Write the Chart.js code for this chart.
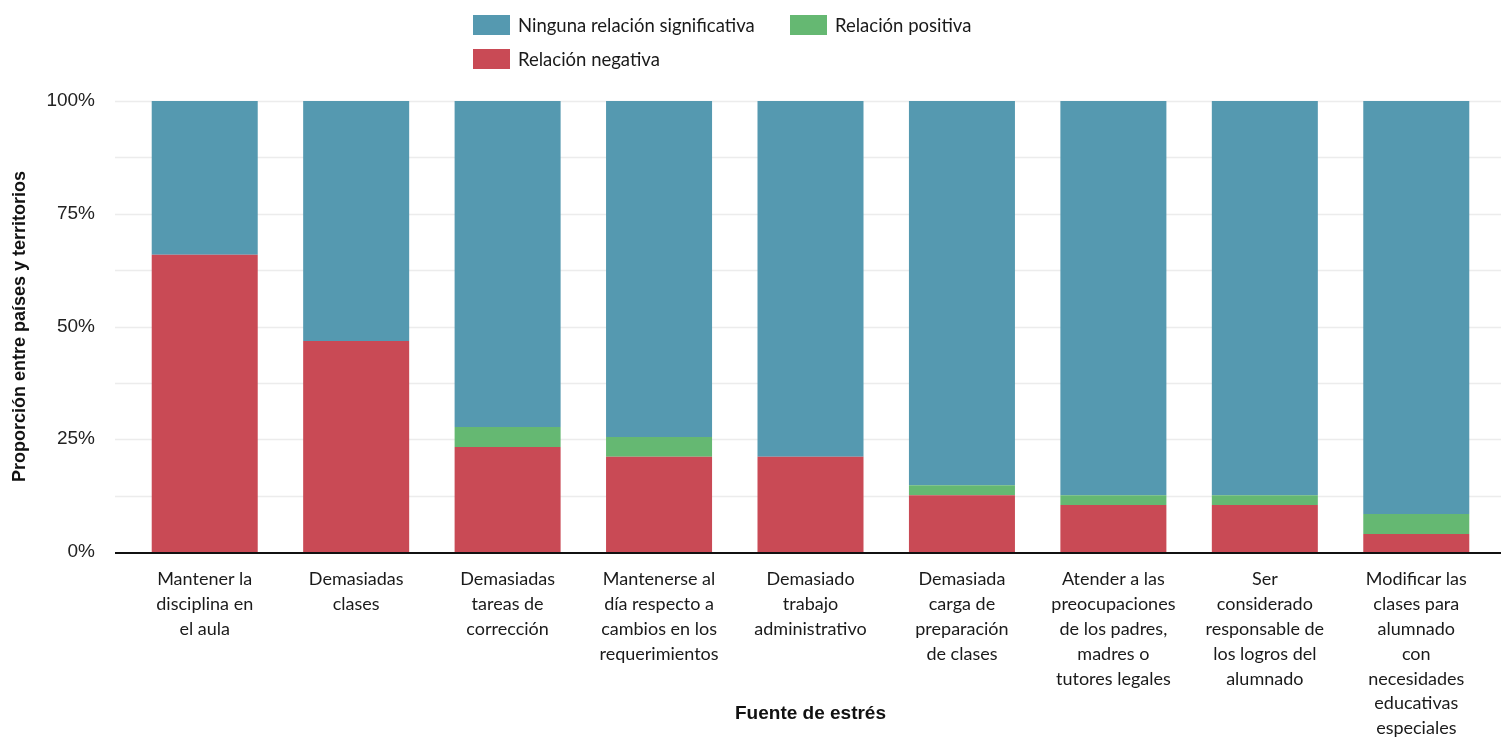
<!DOCTYPE html>
<html>
<head>
<meta charset="utf-8">
<script src="https://cdn.jsdelivr.net/npm/chart.js@4.4.1/dist/chart.umd.min.js"></script>
<style>
  body { margin: 0; background: #fff; }
  #wrap { position: relative; width: 1501px; height: 740px; }
  .leg { position: absolute; display: flex; align-items: center; font-family: Lato, sans-serif; font-size: 18.5px; line-height: 20px; color: #1a1a1a; }
  .leg span { display: inline-block; width: 37px; height: 20px; margin-right: 8px; }
</style>
</head>
<body>
<div id="wrap">
  <canvas id="chart" width="1501" height="740"></canvas>
  <div class="leg" style="left:473px;top:15px;"><span style="background:#5599B0"></span>Ninguna relación significativa</div>
  <div class="leg" style="left:790px;top:15px;"><span style="background:#65B872"></span>Relación positiva</div>
  <div class="leg" style="left:473px;top:49px;"><span style="background:#C94A55"></span>Relación negativa</div>
</div>
<script>
// categories (multi-line labels)
const categories = [
  ['Mantener la', 'disciplina en', 'el aula'],
  ['Demasiadas', 'clases'],
  ['Demasiadas', 'tareas de', 'corrección'],
  ['Mantenerse al', 'día respecto a', 'cambios en los', 'requerimientos'],
  ['Demasiado', 'trabajo', 'administrativo'],
  ['Demasiada', 'carga de', 'preparación', 'de clases'],
  ['Atender a las', 'preocupaciones', 'de los padres,', 'madres o', 'tutores legales'],
  ['Ser', 'considerado', 'responsable de', 'los logros del', 'alumnado'],
  ['Modificar las', 'clases para', 'alumnado', 'con', 'necesidades', 'educativas', 'especiales']
];

// share of countries and territories (%)
const negativa = [65.9, 46.8, 23.3, 21.1, 21.1, 12.6, 10.4, 10.4, 4.0];
const positiva = [0, 0, 4.4, 4.4, 0, 2.2, 2.2, 2.2, 4.4];
const ninguna  = [34.1, 53.2, 72.3, 74.5, 78.9, 85.2, 87.4, 87.4, 91.6];

const yTicks = [0, 25, 50, 75, 100];

// grid lines drawn wider than the chart area, plus the black baseline
const fullGrid = {
  id: 'fullGrid',
  beforeDatasetsDraw(chart) {
    const ctx = chart.ctx, y = chart.scales.y;
    ctx.save();
    ctx.strokeStyle = '#ececec';
    ctx.lineWidth = 1.5;
    y.ticks.forEach(t => {
      if (t.value === 0) return;
      const py = Math.round(y.getPixelForValue(t.value)) + 0.5;
      ctx.beginPath();
      ctx.moveTo(115, py);
      ctx.lineTo(chart.width, py);
      ctx.stroke();
    });
    ctx.restore();
  },
  afterDatasetsDraw(chart) {
    const ctx = chart.ctx, y = chart.scales.y;
    const py = y.getPixelForValue(0);
    ctx.save();
    ctx.strokeStyle = '#111';
    ctx.lineWidth = 2;
    ctx.beginPath();
    ctx.moveTo(115, py + 1);
    ctx.lineTo(chart.width, py + 1);
    ctx.stroke();
    ctx.restore();
  }
};

new Chart(document.getElementById('chart'), {
  type: 'bar',
  data: {
    labels: categories,
    datasets: [
      { label: 'Relación negativa', data: negativa, backgroundColor: '#C94A55' },
      { label: 'Relación positiva', data: positiva, backgroundColor: '#65B872' },
      { label: 'Ninguna relación significativa', data: ninguna, backgroundColor: '#5599B0' }
    ]
  },
  options: {
    responsive: false,
    animation: false,
    layout: { padding: { top: 101, right: 9, left: 0, bottom: 0 } },
    datasets: { bar: { barPercentage: 0.7, categoryPercentage: 1.0 } },
    plugins: {
      legend: { display: false },
      tooltip: { enabled: false }
    },
    scales: {
      x: {
        stacked: true,
        border: { display: false },
        grid: { display: false, drawTicks: false },
        ticks: {
          autoSkip: false,
          maxRotation: 0,
          padding: 15,
          color: '#1a1a1a',
          font: { family: 'Lato', size: 18, lineHeight: 1.38 }
        },
        title: {
          display: true,
          text: 'Fuente de estrés',
          color: '#111',
          font: { family: 'Liberation Sans', size: 19, weight: 'bold' },
          padding: { top: 0, bottom: 15 }
        },
        afterFit(scale) { scale.height = 188; }
      },
      y: {
        stacked: true,
        min: 0,
        max: 100,
        border: { display: false },
        grid: { display: false, drawTicks: false },
        ticks: {
          stepSize: 12.5,
          padding: 34,
          color: '#222',
          font: { family: 'Liberation Sans', size: 19 },
          callback: v => yTicks.includes(v) ? v + '%' : ''
        },
        title: {
          display: true,
          text: 'Proporción entre países y territorios',
          color: '#111',
          font: { family: 'Liberation Sans', size: 18, weight: 'bold' },
          padding: { top: 9, bottom: 0 }
        },
        afterFit(scale) { scale.width = 129; }
      }
    }
  },
  plugins: [fullGrid]
});
</script>
</body>
</html>
